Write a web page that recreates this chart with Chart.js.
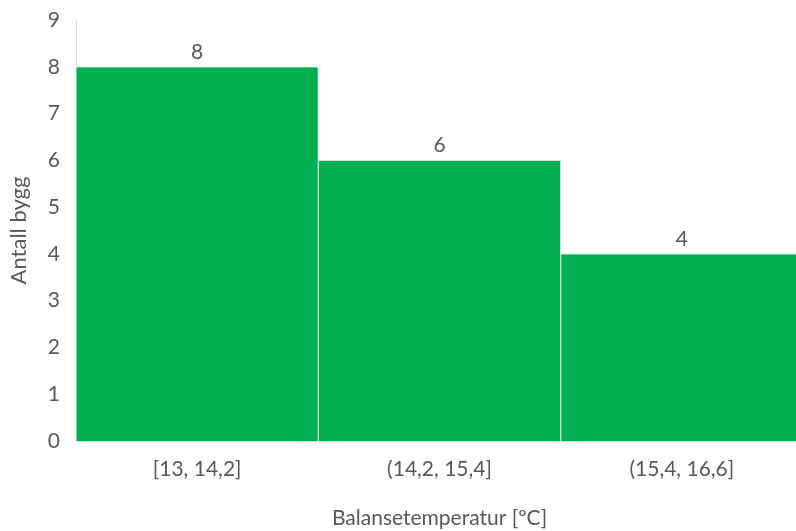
<!DOCTYPE html>
<html>
<head>
<meta charset="utf-8">
<script src="https://cdn.jsdelivr.net/npm/chart.js@4/dist/chart.umd.min.js"></script>
<style>
  html, body { margin: 0; padding: 0; background: #fff; overflow: hidden; }
  #wrap { width: 803px; height: 531px; }
</style>
</head>
<body>
<div id="wrap"><canvas id="histChart" width="803" height="531"></canvas></div>
<script>
const intervals = ["[13, 14,2]", "(14,2, 15,4]", "(15,4, 16,6]"];
const counts = [8, 6, 4];
const yTicks = [0, 1, 2, 3, 4, 5, 6, 7, 8, 9];

const textColor = "#595959";
const fontFamily = "Lato, 'Open Sans', sans-serif";

// value labels above each bar
const barValues = {
  id: "barValues",
  afterDatasetsDraw(chart) {
    const ctx = chart.ctx;
    const meta = chart.getDatasetMeta(0);
    ctx.save();
    ctx.fillStyle = textColor;
    ctx.font = "21px " + fontFamily;
    ctx.textAlign = "center";
    ctx.textBaseline = "middle";
    meta.data.forEach((bar, i) => {
      ctx.fillText(String(counts[i]), bar.x, bar.y - 15);
    });
    ctx.restore();
  }
};

new Chart(document.getElementById("histChart"), {
  type: "bar",
  data: {
    labels: intervals,
    datasets: [{
      data: counts,
      backgroundColor: "#00b050",
      borderColor: "#c9e8d2",
      borderWidth: 1,
      categoryPercentage: 1,
      barPercentage: 1
    }]
  },
  options: {
    responsive: false,
    animation: false,
    layout: { padding: { top: 20, right: 0, left: 0, bottom: 0 } },
    plugins: { legend: { display: false }, tooltip: { enabled: false } },
    scales: {
      x: {
        grid: { display: false, drawTicks: false },
        border: { display: true, color: "#d9d9d9", width: 1 },
        ticks: { color: textColor, font: { size: 21, family: fontFamily }, padding: 16 },
        title: {
          display: true,
          text: "Balansetemperatur [ºC]",
          color: textColor,
          font: { size: 21, family: fontFamily },
          padding: { top: 22, bottom: 0 }
        },
        afterFit(scale) { scale.height = 90; }
      },
      y: {
        min: 0,
        max: 9,
        afterBuildTicks(scale) { scale.ticks = yTicks.map(v => ({ value: v })); },
        grid: { display: false, drawTicks: false },
        border: { display: true, color: "#d9d9d9", width: 1 },
        ticks: { color: textColor, font: { size: 21, family: fontFamily }, padding: 16 },
        title: {
          display: true,
          text: "Antall bygg",
          color: textColor,
          font: { size: 22, family: fontFamily },
          padding: { top: 6, bottom: 0 }
        },
        afterFit(scale) {
          scale.width = 76;
          scale.paddingTop = 0;
          scale.paddingBottom = 0;
        }
      }
    }
  },
  plugins: [barValues]
});
</script>
</body>
</html>
